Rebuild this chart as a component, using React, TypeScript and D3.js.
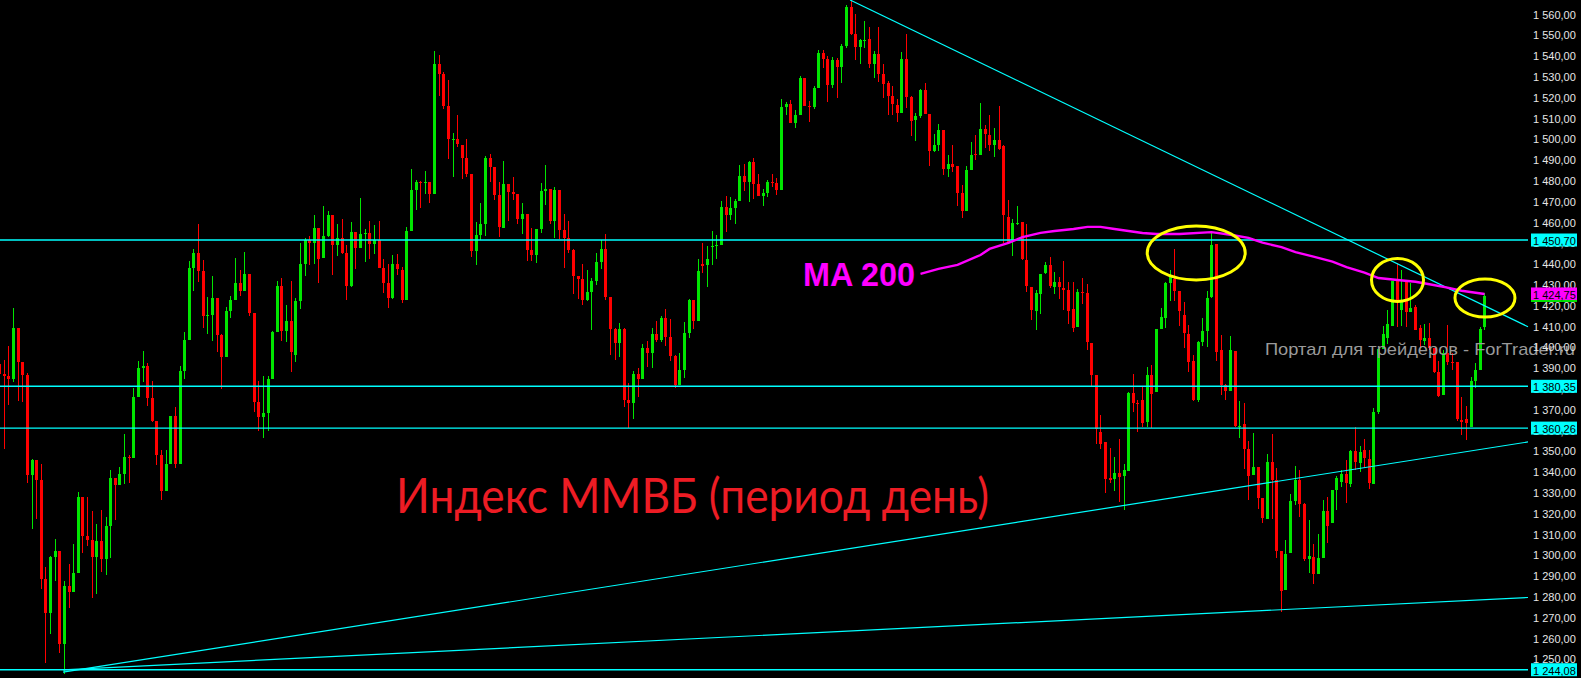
import React, { useEffect } from 'react';
import * as d3 from 'd3';

const W = 1581;
const H = 678;
const PLOT_RIGHT = 1528;
const RIGHT_INDEX = 330.3;
const PRICE_LOW = 1240.1;
const PRICE_HIGH = 1566.1;

// Daily candles [open, high, low, close]
const ohlc: number[][] = [
  [1391.1, 1395.4, 1383.4, 1386.3], [1386.3, 1393.0, 1350.2, 1385.3], [1385.3, 1399.7, 1371.4, 1383.9], [1383.9, 1418.1, 1382.4, 1408.4],
  [1408.4, 1408.4, 1373.3, 1392.0], [1392.0, 1392.0, 1372.8, 1385.8], [1385.8, 1386.8, 1333.9, 1337.7], [1337.7, 1345.4, 1311.8, 1344.9],
  [1344.9, 1344.9, 1316.6, 1335.3], [1335.3, 1343.0, 1282.9, 1287.7], [1287.7, 1293.4, 1247.4, 1271.4], [1271.4, 1298.8, 1261.3, 1298.3],
  [1298.3, 1307.0, 1286.7, 1301.2], [1301.2, 1301.2, 1252.2, 1256.5], [1256.5, 1286.7, 1242.1, 1284.3], [1284.3, 1294.9, 1273.8, 1281.4],
  [1281.4, 1304.6, 1281.4, 1290.6], [1290.6, 1329.5, 1290.6, 1327.1], [1327.1, 1327.1, 1300.3, 1308.4], [1308.4, 1327.1, 1303.6, 1306.5],
  [1306.5, 1320.4, 1278.6, 1298.3], [1298.3, 1314.2, 1280.5, 1306.0], [1306.0, 1320.9, 1291.0, 1297.3], [1297.3, 1317.5, 1289.6, 1313.2],
  [1313.2, 1340.1, 1297.8, 1336.3], [1336.3, 1336.3, 1316.1, 1332.9], [1332.9, 1341.6, 1332.9, 1338.2], [1338.2, 1357.4, 1333.4, 1346.4],
  [1346.4, 1347.3, 1333.9, 1346.0], [1345.9, 1379.5, 1345.9, 1375.2], [1375.2, 1392.5, 1375.2, 1389.2], [1389.2, 1397.3, 1382.4, 1390.1],
  [1390.1, 1391.5, 1370.9, 1374.8], [1374.8, 1382.9, 1363.2, 1363.7], [1363.7, 1363.7, 1342.5, 1347.3], [1347.3, 1349.7, 1325.7, 1330.0],
  [1330.0, 1349.7, 1330.0, 1343.0], [1343.0, 1366.1, 1343.0, 1366.1], [1366.1, 1370.4, 1341.1, 1343.0], [1343.0, 1390.1, 1343.0, 1387.7],
  [1387.7, 1406.5, 1383.9, 1402.6], [1402.6, 1440.6, 1402.6, 1437.2], [1437.2, 1446.4, 1426.2, 1444.5], [1444.5, 1458.4, 1430.5, 1435.8],
  [1435.8, 1441.1, 1408.4, 1414.2], [1414.2, 1423.3, 1405.5, 1414.6], [1414.6, 1433.4, 1402.2, 1422.8], [1422.8, 1422.8, 1396.9, 1405.0],
  [1405.0, 1405.5, 1379.1, 1394.4], [1394.4, 1418.5, 1394.4, 1416.6], [1416.6, 1423.8, 1413.2, 1421.9], [1421.9, 1442.1, 1421.9, 1430.0],
  [1430.0, 1436.3, 1423.8, 1426.2], [1426.2, 1444.9, 1426.2, 1434.4], [1434.4, 1434.4, 1414.2, 1415.6], [1415.6, 1415.6, 1368.0, 1372.8],
  [1372.8, 1382.9, 1358.9, 1365.6], [1365.6, 1385.3, 1355.5, 1367.5], [1367.5, 1385.3, 1358.9, 1383.9], [1383.9, 1406.9, 1383.9, 1406.5],
  [1406.5, 1431.0, 1406.5, 1428.6], [1428.6, 1432.4, 1402.2, 1406.9], [1406.9, 1419.5, 1401.7, 1411.8], [1411.8, 1431.0, 1387.2, 1396.9],
  [1395.4, 1422.8, 1392.0, 1421.4], [1421.4, 1449.3, 1417.5, 1439.2], [1439.2, 1451.7, 1433.4, 1450.7], [1450.7, 1452.6, 1438.7, 1449.3],
  [1449.3, 1462.7, 1439.2, 1456.5], [1456.5, 1456.5, 1430.0, 1441.6], [1442.1, 1467.0, 1442.1, 1452.6], [1452.6, 1464.6, 1452.2, 1462.7],
  [1462.7, 1462.7, 1433.9, 1448.3], [1448.3, 1458.4, 1443.0, 1451.7], [1451.7, 1460.8, 1444.0, 1444.5], [1444.5, 1448.3, 1421.9, 1428.6],
  [1428.6, 1459.4, 1428.1, 1454.6], [1454.6, 1454.6, 1436.8, 1446.9], [1446.9, 1470.9, 1446.9, 1453.6], [1453.6, 1456.0, 1440.1, 1454.1],
  [1454.1, 1459.9, 1441.6, 1448.8], [1448.8, 1457.9, 1444.0, 1450.7], [1450.7, 1459.9, 1437.2, 1437.2], [1437.2, 1441.6, 1425.2, 1430.0],
  [1430.0, 1439.2, 1418.0, 1422.8], [1422.8, 1443.5, 1422.3, 1439.2], [1439.2, 1444.0, 1433.9, 1436.8], [1436.3, 1437.7, 1420.4, 1421.9],
  [1421.9, 1457.0, 1421.9, 1455.0], [1455.0, 1484.8, 1455.0, 1474.7], [1474.7, 1479.5, 1465.1, 1478.6], [1478.6, 1479.1, 1466.1, 1478.3],
  [1478.3, 1483.9, 1472.8, 1478.6], [1478.6, 1478.6, 1468.5, 1472.8], [1472.8, 1541.6, 1472.8, 1535.3], [1535.3, 1539.7, 1519.9, 1530.5],
  [1530.5, 1531.5, 1513.7, 1515.1], [1515.1, 1527.6, 1489.6, 1499.3], [1499.3, 1502.2, 1481.0, 1499.5], [1499.3, 1510.8, 1495.4, 1496.9],
  [1496.4, 1496.4, 1480.0, 1490.1], [1490.1, 1499.3, 1481.0, 1482.4], [1482.4, 1482.4, 1442.5, 1445.4], [1445.4, 1459.4, 1438.7, 1453.1],
  [1453.1, 1468.5, 1450.7, 1458.4], [1458.4, 1491.1, 1452.6, 1490.1], [1490.1, 1492.1, 1478.6, 1485.8], [1485.8, 1485.8, 1469.9, 1472.3],
  [1472.3, 1478.6, 1452.2, 1457.0], [1456.5, 1488.7, 1456.5, 1477.6], [1477.6, 1477.6, 1459.9, 1473.8], [1473.8, 1481.0, 1469.9, 1472.8],
  [1472.8, 1472.8, 1458.4, 1460.8], [1460.8, 1468.5, 1453.6, 1463.2], [1463.2, 1463.2, 1440.6, 1445.9], [1445.9, 1456.5, 1440.6, 1443.5],
  [1443.5, 1456.0, 1439.7, 1456.0], [1456.0, 1478.1, 1454.1, 1474.3], [1474.3, 1486.8, 1467.5, 1475.2], [1475.2, 1475.2, 1458.4, 1459.9],
  [1459.9, 1476.2, 1451.7, 1474.7], [1474.7, 1474.7, 1451.2, 1455.5], [1455.5, 1463.2, 1437.2, 1451.7], [1451.7, 1459.9, 1444.5, 1445.9],
  [1445.9, 1446.4, 1424.7, 1433.4], [1433.4, 1433.4, 1422.3, 1432.0], [1432.0, 1439.2, 1419.5, 1421.9], [1421.9, 1436.3, 1421.4, 1425.7],
  [1425.7, 1432.4, 1407.4, 1431.0], [1431.0, 1444.5, 1429.1, 1440.1], [1440.1, 1450.7, 1436.8, 1446.4], [1446.4, 1453.6, 1421.9, 1423.3],
  [1423.3, 1423.3, 1395.4, 1407.9], [1407.9, 1408.4, 1393.0, 1401.2], [1401.2, 1410.8, 1394.4, 1407.9], [1407.9, 1408.4, 1370.4, 1373.8],
  [1373.8, 1382.0, 1360.3, 1372.3], [1372.3, 1387.7, 1364.6, 1386.3], [1386.3, 1389.2, 1375.2, 1383.9], [1383.9, 1400.7, 1383.9, 1398.8],
  [1398.8, 1402.2, 1389.7, 1396.4], [1396.4, 1408.4, 1389.2, 1405.5], [1405.5, 1411.8, 1401.7, 1402.6], [1402.6, 1414.2, 1401.7, 1413.2],
  [1413.2, 1417.5, 1399.7, 1404.1], [1404.1, 1412.7, 1392.5, 1394.9], [1394.9, 1395.4, 1379.6, 1381.0], [1381.0, 1396.4, 1381.0, 1388.2],
  [1388.2, 1411.3, 1384.4, 1406.0], [1406.0, 1422.3, 1403.6, 1421.9], [1421.9, 1421.9, 1407.9, 1411.8], [1411.8, 1441.6, 1411.8, 1435.8],
  [1439.2, 1449.3, 1434.8, 1438.2], [1438.7, 1447.8, 1428.1, 1441.6], [1447.4, 1455.0, 1438.7, 1447.8], [1447.8, 1453.1, 1441.6, 1448.3],
  [1448.3, 1469.4, 1448.3, 1466.6], [1466.6, 1471.9, 1454.6, 1462.7], [1462.7, 1471.4, 1460.3, 1466.1], [1466.1, 1470.4, 1458.4, 1469.4],
  [1469.4, 1486.8, 1469.4, 1481.5], [1481.5, 1487.3, 1474.3, 1478.6], [1478.6, 1488.7, 1469.0, 1488.2], [1488.2, 1490.1, 1470.4, 1477.6],
  [1477.6, 1482.4, 1471.9, 1471.9], [1471.9, 1475.2, 1467.0, 1473.3], [1473.3, 1479.5, 1471.4, 1478.6], [1478.6, 1482.4, 1476.2, 1478.1],
  [1478.1, 1480.5, 1472.3, 1474.7], [1474.7, 1518.5, 1474.7, 1514.7], [1514.7, 1517.1, 1510.8, 1516.1], [1516.1, 1518.0, 1507.0, 1507.0],
  [1507.0, 1513.2, 1504.6, 1510.8], [1510.8, 1529.6, 1510.8, 1528.6], [1528.6, 1528.6, 1515.1, 1515.1], [1515.1, 1517.5, 1507.5, 1514.9],
  [1514.7, 1524.8, 1513.7, 1523.8], [1523.8, 1542.0, 1523.8, 1540.6], [1540.6, 1542.0, 1533.4, 1537.7], [1537.7, 1539.2, 1517.1, 1525.2],
  [1525.2, 1538.7, 1523.8, 1537.2], [1537.2, 1538.2, 1519.0, 1533.9], [1533.9, 1544.9, 1526.2, 1544.0], [1544.0, 1563.7, 1543.0, 1562.7],
  [1562.7, 1566.1, 1549.3, 1549.8], [1549.8, 1559.4, 1537.2, 1543.5], [1543.5, 1547.3, 1535.3, 1546.8], [1546.8, 1556.0, 1543.0, 1547.0],
  [1547.3, 1553.1, 1533.4, 1535.3], [1535.3, 1541.6, 1528.6, 1540.1], [1540.1, 1553.1, 1526.7, 1530.5], [1530.5, 1535.3, 1519.0, 1525.7],
  [1526.2, 1527.1, 1510.8, 1519.9], [1519.9, 1524.8, 1510.8, 1516.1], [1515.6, 1518.5, 1507.5, 1511.8], [1511.8, 1541.1, 1511.8, 1537.7],
  [1537.7, 1549.8, 1514.2, 1519.4], [1519.4, 1519.9, 1500.7, 1507.9], [1508.4, 1511.8, 1498.3, 1510.3], [1510.3, 1523.3, 1509.4, 1522.8],
  [1522.8, 1526.2, 1511.3, 1511.3], [1511.3, 1511.3, 1486.3, 1493.5], [1493.5, 1501.7, 1493.0, 1496.4], [1496.4, 1506.5, 1493.5, 1503.6],
  [1503.6, 1503.6, 1481.9, 1484.8], [1484.8, 1491.6, 1481.0, 1487.2], [1487.2, 1496.4, 1483.4, 1485.8], [1486.3, 1486.3, 1467.0, 1473.3],
  [1473.3, 1477.1, 1461.3, 1464.6], [1464.6, 1486.3, 1464.6, 1484.3], [1484.3, 1497.8, 1484.3, 1491.6], [1492.1, 1501.2, 1489.2, 1491.6],
  [1491.6, 1516.6, 1491.6, 1504.1], [1504.1, 1506.0, 1495.0, 1501.7], [1501.2, 1510.8, 1493.5, 1496.4], [1496.4, 1504.6, 1490.6, 1498.8],
  [1498.8, 1515.1, 1494.0, 1494.5], [1495.9, 1496.4, 1449.3, 1462.7], [1461.8, 1469.9, 1448.8, 1449.3], [1450.7, 1460.8, 1443.0, 1458.9],
  [1458.9, 1467.0, 1457.9, 1459.1], [1459.4, 1459.4, 1441.1, 1441.6], [1441.1, 1458.4, 1425.7, 1428.6], [1428.1, 1428.1, 1412.2, 1417.0],
  [1416.6, 1426.7, 1407.4, 1425.2], [1424.7, 1434.4, 1415.1, 1434.4], [1434.9, 1440.1, 1434.4, 1438.8], [1438.8, 1442.5, 1427.6, 1428.6],
  [1428.1, 1435.3, 1424.7, 1430.5], [1430.5, 1432.9, 1422.3, 1428.1], [1427.6, 1440.6, 1417.0, 1426.7], [1426.7, 1430.5, 1410.3, 1416.6],
  [1417.5, 1430.5, 1406.5, 1408.4], [1408.9, 1427.2, 1408.9, 1425.7], [1425.7, 1432.4, 1420.0, 1425.5], [1425.2, 1429.6, 1397.8, 1401.7],
  [1401.2, 1401.2, 1380.5, 1385.8], [1385.8, 1385.8, 1352.6, 1359.8], [1358.4, 1366.6, 1350.2, 1352.6], [1353.6, 1353.6, 1329.1, 1335.8],
  [1336.3, 1350.7, 1333.9, 1335.3], [1335.8, 1346.4, 1330.0, 1338.7], [1338.7, 1355.0, 1324.7, 1336.8], [1337.2, 1343.0, 1320.9, 1340.1],
  [1339.7, 1377.6, 1339.7, 1377.2], [1377.2, 1386.3, 1368.0, 1372.3], [1372.5, 1373.8, 1358.4, 1372.3], [1373.8, 1380.0, 1360.8, 1362.7],
  [1363.2, 1389.7, 1360.8, 1385.8], [1385.8, 1390.6, 1360.3, 1376.7], [1377.6, 1407.9, 1377.6, 1407.9], [1407.9, 1418.0, 1407.9, 1413.7],
  [1413.2, 1430.5, 1408.4, 1430.0], [1430.0, 1436.3, 1421.4, 1432.9], [1432.0, 1446.4, 1421.4, 1426.2], [1426.2, 1426.2, 1409.4, 1416.6],
  [1414.6, 1420.9, 1398.8, 1406.0], [1405.5, 1409.9, 1387.2, 1392.0], [1392.5, 1395.4, 1373.3, 1373.8], [1373.8, 1402.2, 1372.8, 1401.7],
  [1401.7, 1413.2, 1399.7, 1406.9], [1406.9, 1426.2, 1399.3, 1422.8], [1423.3, 1454.1, 1422.8, 1448.3], [1448.8, 1448.8, 1392.5, 1396.9],
  [1397.8, 1405.0, 1376.2, 1381.0], [1381.0, 1381.4, 1373.8, 1378.1], [1378.1, 1404.6, 1378.1, 1397.8], [1397.3, 1397.3, 1360.8, 1361.3],
  [1361.3, 1373.3, 1355.5, 1361.5], [1362.2, 1372.3, 1340.6, 1350.2], [1350.2, 1354.1, 1325.7, 1337.2], [1337.7, 1357.9, 1337.7, 1341.6],
  [1341.6, 1341.6, 1321.4, 1326.7], [1326.7, 1326.7, 1314.6, 1317.0], [1316.6, 1347.8, 1316.6, 1344.0], [1344.0, 1357.4, 1316.6, 1335.3],
  [1335.3, 1341.1, 1297.8, 1301.2], [1301.2, 1301.2, 1271.9, 1281.9], [1282.4, 1306.5, 1282.4, 1299.8], [1300.3, 1328.6, 1300.3, 1325.2],
  [1325.2, 1342.0, 1323.3, 1335.3], [1335.3, 1340.1, 1317.5, 1323.8], [1323.8, 1324.3, 1296.4, 1297.3], [1297.3, 1316.1, 1290.6, 1298.8],
  [1298.3, 1304.6, 1285.3, 1290.1], [1290.1, 1309.4, 1290.1, 1297.8], [1297.8, 1325.7, 1297.8, 1320.4], [1320.4, 1327.1, 1305.0, 1313.2],
  [1314.6, 1330.5, 1314.6, 1330.5], [1330.5, 1337.2, 1320.9, 1336.3], [1334.4, 1340.1, 1331.9, 1338.2], [1338.2, 1344.9, 1324.3, 1333.9],
  [1333.4, 1349.7, 1332.0, 1349.2], [1349.2, 1360.8, 1340.1, 1344.0], [1343.5, 1351.7, 1339.2, 1348.8], [1349.7, 1355.0, 1341.1, 1345.9],
  [1345.4, 1349.7, 1331.0, 1333.9], [1333.4, 1369.9, 1333.4, 1368.0], [1368.0, 1398.3, 1367.0, 1398.3], [1398.3, 1409.4, 1398.3, 1405.5],
  [1403.6, 1417.0, 1400.7, 1410.3], [1409.4, 1431.0, 1409.4, 1431.0], [1431.0, 1439.7, 1408.9, 1421.4], [1417.0, 1436.3, 1409.4, 1421.4],
  [1431.0, 1431.0, 1408.9, 1416.1], [1416.1, 1430.0, 1416.1, 1418.0], [1418.5, 1419.5, 1407.4, 1407.4], [1408.4, 1409.9, 1397.8, 1402.6],
  [1402.2, 1410.3, 1400.2, 1403.6], [1403.6, 1410.8, 1397.8, 1398.8], [1398.8, 1398.8, 1386.8, 1387.2], [1387.2, 1392.5, 1375.2, 1375.7],
  [1376.2, 1397.8, 1376.2, 1396.4], [1396.4, 1409.9, 1390.6, 1392.0], [1392.2, 1396.4, 1388.2, 1392.0], [1392.0, 1392.0, 1363.7, 1364.6],
  [1364.2, 1375.2, 1357.0, 1363.2], [1364.6, 1370.9, 1354.5, 1362.7], [1360.8, 1384.9, 1360.8, 1382.9], [1382.9, 1391.5, 1379.6, 1388.2],
  [1388.2, 1408.9, 1388.2, 1407.9], [1408.9, 1425.2, 1407.4, 1423.8],
];

// MA 200 readings (candle index, value)
const maIndex = [199, 203, 207, 212, 214, 218, 221, 225, 228, 232, 235, 238, 241, 244, 247, 250, 255, 262, 266, 270, 273, 277, 280, 284, 288, 291, 295, 298, 302, 306, 309, 313, 316, 321];
const maValue = [1434.4, 1436.8, 1438.7, 1443.5, 1446.4, 1449.3, 1452.1, 1454.1, 1455.0, 1456.0, 1457.0, 1457.0, 1456.0, 1455.0, 1454.1, 1453.6, 1453.6, 1454.5, 1453.2, 1451.7, 1449.4, 1447.3, 1444.9, 1442.7, 1440.3, 1437.7, 1435.0, 1432.4, 1431.5, 1430.6, 1429.4, 1427.8, 1426.3, 1424.75];

// horizontal levels
const levels = [1450.70, 1380.35, 1360.26, 1244.08];
const levelLabels = ['1 450,70', '1 380,35', '1 360,26', '1 244,08'];

// trend lines: [startIndex, startPrice, endIndex, endPrice]
const trendLines = [
  [183.8, 1566.1, 330.3, 1409.0],
  [13.7, 1242.9, 330.3, 1353.6],
  [13.7, 1244.0, 330.3, 1278.8],
];

// annotated ellipse centres: [index, price]
const ellipseCentres = [
  [258.6, 1444.5],
  [302.1, 1431.5],
  [321.0, 1422.8],
];
const ellipseRadii = [[49, 27], [26, 21.5], [30, 19]];

const priceTicks = d3.range(1250, 1571, 10);
const maLast = 1424.75;
const maLastLabel = '1 424,75';

const fmt = (v: number) => {
  const s = v.toFixed(2).replace('.', ',');
  const [a, b] = s.split(',');
  return a.slice(0, a.length - 3) + ' ' + a.slice(-3) + ',' + b;
};

const GREEN = '#00e600';
const RED = '#ff0000';
const CYAN = '#00ffff';
const MAGENTA = '#ff00ff';

export default function App() {
  useEffect(() => {
    document.body.style.margin = '0';
    document.body.style.background = '#000';
  }, []);

  const x = d3.scaleLinear().domain([0, RIGHT_INDEX]).range([-0.38, PLOT_RIGHT]);
  const y = d3.scaleLinear().domain([PRICE_LOW, PRICE_HIGH]).range([H, 0]);

  const maLine = d3
    .line<number>()
    .x((_, i) => Math.floor(x(maIndex[i])) + 0.5)
    .y((d) => y(d))
    .curve(d3.curveLinear)(maValue) as string;

  const axisFont = "'Liberation Sans', Arial, sans-serif";

  return (
    <svg width={W} height={H} style={{ position: 'absolute', left: 0, top: 0, display: 'block', background: '#000' }}>
      <rect x={0} y={0} width={W} height={H} fill="#000" />
      {/* candles */}
      <g shapeRendering="crispEdges">
        {ohlc.map((c, i) => {
          const [o, h, l, cl] = c;
          const up = cl >= o;
          const col = up ? GREEN : RED;
          const cx = Math.floor(x(i));
          const top = Math.round(y(Math.max(o, cl)));
          const bot = Math.round(y(Math.min(o, cl)));
          return (
            <g key={i}>
              <rect x={cx} y={Math.round(y(h))} width={1} height={Math.max(1, Math.round(y(l)) - Math.round(y(h)))} fill={col} />
              <rect x={cx - 1} y={top} width={3} height={Math.max(1, bot - top)} fill={col} />
            </g>
          );
        })}
      </g>
      {/* horizontal levels */}
      {levels.map((p, i) => (
        <line key={i} x1={0} x2={PLOT_RIGHT} y1={y(p)} y2={y(p)} stroke={CYAN} strokeWidth={1.4} />
      ))}
      {/* trend lines */}
      {trendLines.map((t, i) => (
        <line key={i} x1={x(t[0])} y1={y(t[1])} x2={x(t[2])} y2={y(t[3])} stroke={CYAN} strokeWidth={1.2} />
      ))}
      {/* MA 200 */}
      <path d={maLine} fill="none" stroke={MAGENTA} strokeWidth={2.4} />
      {/* ellipses */}
      {ellipseCentres.map((e, i) => (
        <ellipse key={i} cx={x(e[0])} cy={y(e[1])} rx={ellipseRadii[i][0]} ry={ellipseRadii[i][1]} fill="none" stroke="#ffff00" strokeWidth={3} />
      ))}
      {/* texts */}
      <text x={803} y={286} fill={MAGENTA} fontFamily={axisFont} fontWeight="bold" fontSize={33} textLength={112} lengthAdjust="spacingAndGlyphs">MA 200</text>
      <text x={396} y={513} fill="#ed1c24" fontFamily="Lato, 'Open Sans', sans-serif" fontSize={49} textLength={593} lengthAdjust="spacingAndGlyphs">Индекс ММВБ (период день)</text>
      <text x={1265} y={355} fill="#9a9a9a" fontFamily={axisFont} fontSize={17} textLength={310} lengthAdjust="spacingAndGlyphs">Портал для трейдеров - ForTrader.ru</text>
      {/* price axis labels */}
      {priceTicks.map((p) => (
        <text key={p} x={1533} y={y(p) + 6} fill="#e6e6e6" fontFamily={axisFont} fontSize={11}>{fmt(p)}</text>
      ))}
      {levels.map((p, i) => (
        <g key={'lb' + i}>
          <rect x={1531} y={y(p) - 6.5} width={46} height={13} fill={CYAN} />
          <text x={1533} y={y(p) + 5} fill="#000" fontFamily={axisFont} fontSize={11}>{levelLabels[i]}</text>
        </g>
      ))}
      <rect x={1531} y={y(maLast) - 6.5} width={46} height={12.5} fill={MAGENTA} />
      <rect x={1531} y={y(maLast) + 6} width={46} height={2} fill={GREEN} />
      <text x={1533} y={y(maLast) + 5} fill="#000" fontFamily={axisFont} fontSize={11}>{maLastLabel}</text>
    </svg>
  );
}
